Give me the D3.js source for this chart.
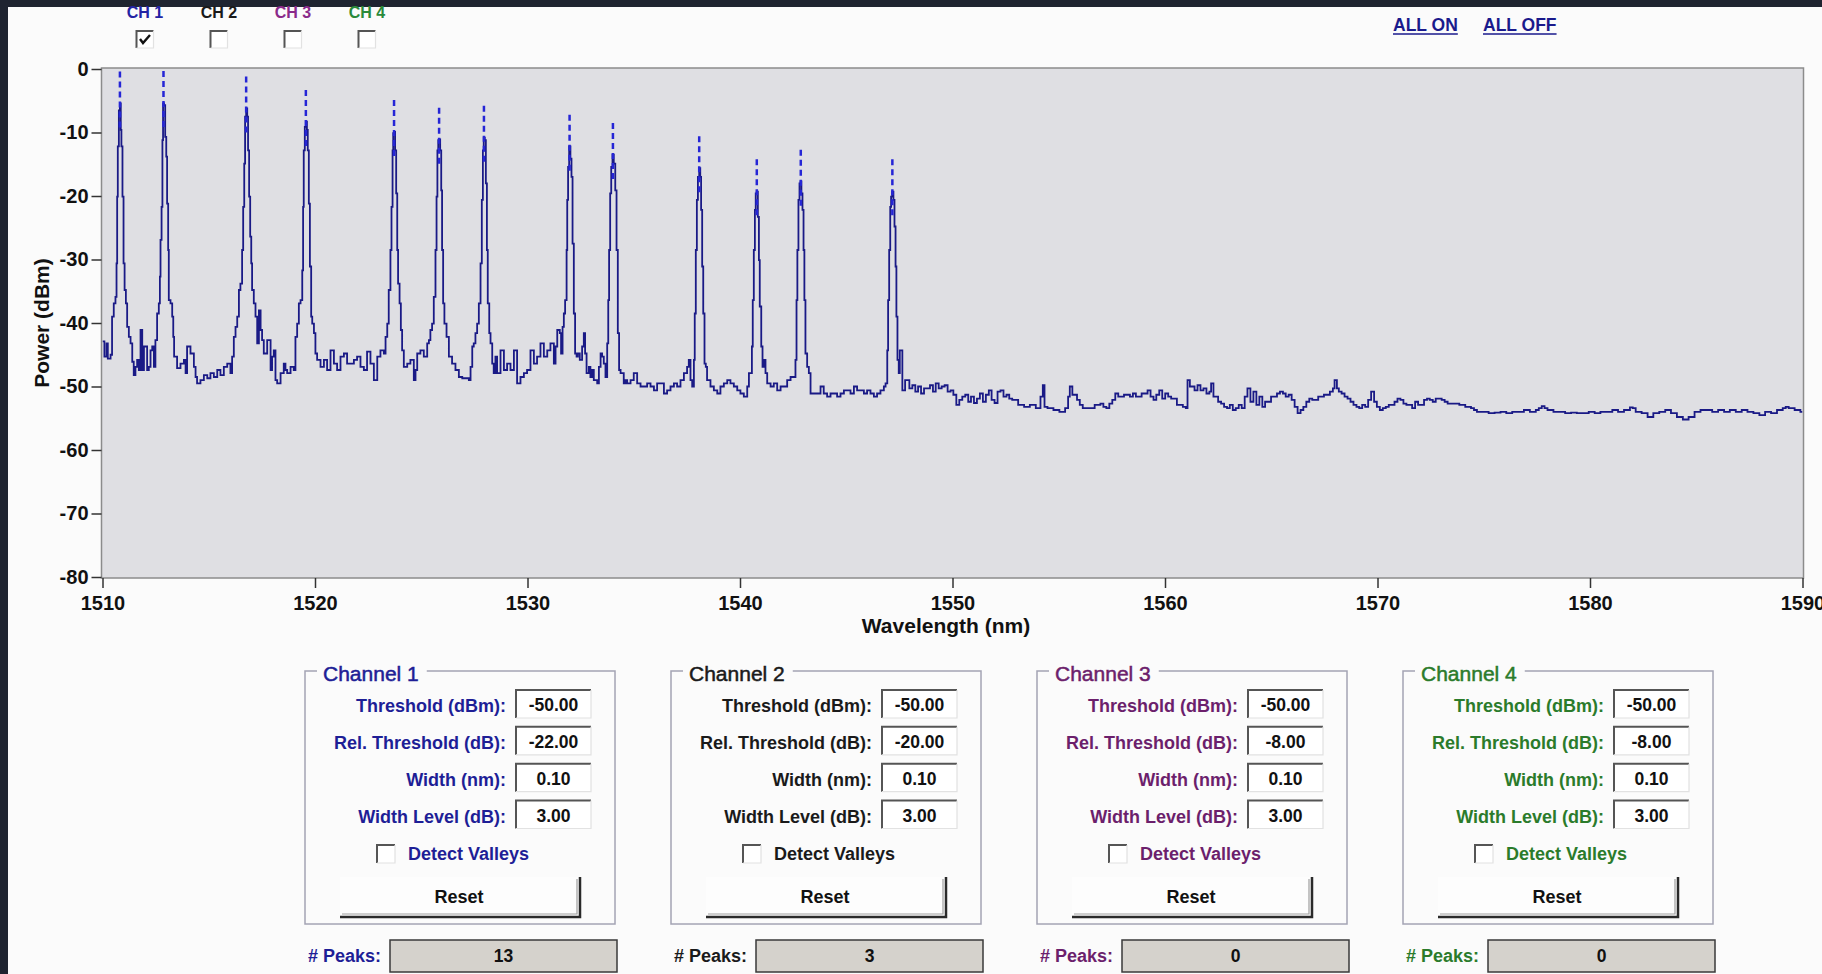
<!DOCTYPE html>
<html lang="en">
<head>
<meta charset="UTF-8">
<title>Peak Search</title>
<script src="https://cdn.jsdelivr.net/npm/d3@7"></script>
<style>
  body { margin: 0; background: #fbfbfb; overflow: hidden; }
  svg { display: block; font-family: 'Liberation Sans', Arial, sans-serif; }
</style>
</head>
<body>
<svg id="chart"></svg>
<script>

// header check boxes
const channelNames = ['CH 1', 'CH 2', 'CH 3', 'CH 4'];
const channelOn = [true, false, false, false];
const headerColors = ['#2323a3', '#1a1a1a', '#8a2a8a', '#2a8a3a'];

// lower panels
const panelTitles = ['Channel 1', 'Channel 2', 'Channel 3', 'Channel 4'];
const panelColors = ['#1e1e96', '#1a1a1a', '#6c1f6c', '#2b7b2b'];
const fieldLabels = ['Threshold (dBm):', 'Rel. Threshold (dB):', 'Width (nm):', 'Width Level (dB):'];
const thresholds = ['-50.00', '-50.00', '-50.00', '-50.00'];
const relThresholds = ['-22.00', '-20.00', '-8.00', '-8.00'];
const widths = ['0.10', '0.10', '0.10', '0.10'];
const widthLevels = ['3.00', '3.00', '3.00', '3.00'];
const peakCounts = ['13', '3', '0', '0'];

// axes
const xTicks = [1510, 1520, 1530, 1540, 1550, 1560, 1570, 1580, 1590];
const yTicks = [0, -10, -20, -30, -40, -50, -60, -70, -80];

// detected peaks of channel 1 [nm, dBm]
const peaks = [
  [1510.82, -5.4], [1512.87, -5.3], [1516.76, -6.2], [1519.57, -8.3],
  [1523.72, -9.9], [1525.84, -11.1], [1527.95, -10.8], [1531.98, -12.2],
  [1534.02, -13.5], [1538.08, -15.6], [1540.79, -19.2], [1542.86, -17.7],
  [1547.17, -19.2]
];

// channel 1 trace [nm, dBm]
const trace = [
  [1510.00,-42.9],[1510.09,-45.3],[1510.19,-43.2],[1510.25,-45.6],[1510.38,-45.0],[1510.45,-39.0],[1510.53,-36.9],[1510.61,-35.9],
  [1510.66,-30.6],[1510.69,-20.1],[1510.72,-12.2],[1510.77,-6.5],[1510.82,-5.4],[1510.86,-9.6],[1510.89,-12.2],[1510.94,-20.1],
  [1510.99,-30.6],[1511.04,-34.8],[1511.10,-36.9],[1511.16,-40.6],[1511.24,-42.2],[1511.32,-43.2],[1511.40,-46.1],[1511.47,-48.2],
  [1511.55,-46.9],[1511.63,-45.8],[1511.71,-47.4],[1511.79,-41.1],[1511.87,-47.4],[1511.95,-43.7],[1512.10,-47.4],[1512.18,-46.9],
  [1512.26,-44.3],[1512.34,-43.7],[1512.42,-46.9],[1512.49,-42.7],[1512.57,-38.5],[1512.65,-36.9],[1512.70,-32.7],[1512.73,-26.9],
  [1512.78,-21.7],[1512.82,-11.2],[1512.85,-5.4],[1512.90,-5.7],[1512.95,-10.7],[1513.00,-13.8],[1513.04,-21.2],[1513.09,-28.5],
  [1513.12,-36.4],[1513.20,-36.9],[1513.28,-39.0],[1513.33,-42.2],[1513.37,-45.3],[1513.45,-45.3],[1513.51,-47.1],[1513.67,-46.4],
  [1513.83,-45.8],[1513.91,-47.9],[1513.98,-43.7],[1514.14,-44.8],[1514.30,-46.9],[1514.38,-48.5],[1514.45,-49.5],[1514.61,-49.0],
  [1514.77,-48.2],[1514.93,-48.7],[1515.08,-47.9],[1515.24,-48.5],[1515.40,-47.4],[1515.55,-48.2],[1515.71,-46.9],[1515.87,-46.4],
  [1516.02,-47.9],[1516.10,-45.3],[1516.18,-42.2],[1516.26,-40.6],[1516.34,-39.0],[1516.42,-34.8],[1516.49,-33.8],[1516.57,-28.5],
  [1516.62,-21.7],[1516.67,-14.9],[1516.71,-7.5],[1516.76,-6.2],[1516.81,-7.5],[1516.85,-12.8],[1516.90,-20.1],[1516.95,-26.4],
  [1517.00,-30.6],[1517.04,-34.8],[1517.12,-36.9],[1517.20,-39.0],[1517.28,-43.2],[1517.36,-38.0],[1517.44,-41.1],[1517.51,-42.7],
  [1517.59,-44.8],[1517.75,-42.7],[1517.91,-47.4],[1517.98,-45.3],[1518.06,-44.3],[1518.14,-49.0],[1518.22,-49.5],[1518.38,-47.9],
  [1518.53,-46.4],[1518.61,-47.4],[1518.69,-47.9],[1518.85,-46.9],[1519.00,-47.4],[1519.08,-42.2],[1519.16,-40.1],[1519.24,-36.9],
  [1519.32,-36.4],[1519.40,-31.7],[1519.44,-21.7],[1519.47,-12.8],[1519.52,-9.1],[1519.57,-8.3],[1519.62,-9.6],[1519.66,-12.8],
  [1519.71,-21.2],[1519.76,-31.1],[1519.82,-39.0],[1519.87,-40.1],[1519.95,-41.6],[1520.02,-44.8],[1520.10,-45.8],[1520.26,-46.9],
  [1520.42,-45.8],[1520.57,-47.4],[1520.73,-44.3],[1520.89,-46.4],[1521.04,-47.4],[1521.20,-45.3],[1521.36,-44.8],[1521.51,-46.4],
  [1521.83,-45.8],[1521.98,-45.3],[1522.14,-46.9],[1522.30,-47.4],[1522.45,-44.5],[1522.61,-46.4],[1522.77,-49.0],[1522.93,-45.3],
  [1523.08,-44.3],[1523.24,-44.8],[1523.32,-42.2],[1523.40,-40.1],[1523.47,-34.8],[1523.55,-28.5],[1523.60,-21.7],[1523.65,-12.8],
  [1523.68,-10.1],[1523.73,-9.9],[1523.77,-12.8],[1523.82,-19.6],[1523.87,-28.5],[1523.91,-33.8],[1523.98,-36.9],[1524.04,-41.1],
  [1524.10,-44.3],[1524.18,-46.9],[1524.34,-46.4],[1524.49,-45.8],[1524.65,-49.0],[1524.73,-47.4],[1524.81,-44.8],[1524.96,-44.3],
  [1525.12,-45.3],[1525.28,-43.2],[1525.36,-42.7],[1525.43,-41.1],[1525.51,-40.1],[1525.59,-35.9],[1525.67,-28.5],[1525.72,-20.1],
  [1525.76,-12.8],[1525.80,-11.2],[1525.84,-11.1],[1525.89,-12.8],[1525.94,-19.1],[1525.98,-28.5],[1526.03,-36.9],[1526.09,-40.1],
  [1526.19,-42.2],[1526.30,-45.3],[1526.45,-46.4],[1526.61,-47.4],[1526.77,-48.5],[1526.93,-48.7],[1527.08,-48.7],[1527.24,-49.0],
  [1527.32,-46.9],[1527.40,-43.7],[1527.47,-43.2],[1527.55,-41.6],[1527.63,-40.1],[1527.71,-36.9],[1527.79,-30.6],[1527.85,-20.6],
  [1527.90,-12.8],[1527.94,-10.8],[1527.99,-11.2],[1528.04,-18.0],[1528.09,-28.5],[1528.13,-36.9],[1528.20,-41.6],[1528.26,-43.2],
  [1528.34,-46.4],[1528.41,-47.9],[1528.49,-45.3],[1528.57,-47.9],[1528.73,-44.3],[1528.89,-47.4],[1529.04,-46.4],[1529.20,-47.4],
  [1529.36,-44.3],[1529.51,-49.5],[1529.67,-48.5],[1529.83,-47.9],[1529.98,-47.4],[1530.14,-44.3],[1530.30,-46.4],[1530.45,-45.3],
  [1530.61,-43.2],[1530.77,-45.3],[1530.93,-44.3],
  [1531.08,-43.2],[1531.24,-46.4],[1531.32,-43.7],[1531.40,-41.1],[1531.52,-41.6],[1531.58,-44.8],[1531.65,-40.6],[1531.71,-38.5],
  [1531.77,-36.4],[1531.84,-28.5],[1531.87,-20.6],[1531.91,-15.4],[1531.96,-12.2],[1532.02,-14.1],[1532.07,-17.0],[1532.12,-27.5],
  [1532.18,-38.5],[1532.24,-44.8],[1532.31,-45.3],[1532.37,-44.8],[1532.46,-45.8],[1532.57,-43.7],[1532.65,-41.6],[1532.71,-44.8],
  [1532.78,-47.9],[1532.89,-46.9],[1532.96,-48.5],[1533.04,-47.4],[1533.12,-49.0],[1533.28,-49.5],[1533.36,-46.9],[1533.44,-44.8],
  [1533.51,-45.3],[1533.59,-46.4],[1533.67,-48.5],[1533.75,-43.2],[1533.80,-36.4],[1533.84,-28.5],[1533.89,-19.6],[1533.94,-15.4],
  [1534.00,-13.5],[1534.06,-14.9],[1534.13,-19.1],[1534.19,-28.5],[1534.25,-41.6],[1534.31,-47.4],[1534.38,-47.9],[1534.53,-49.5],
  [1534.61,-49.0],[1534.69,-49.5],[1534.85,-49.0],[1535.00,-47.9],[1535.16,-49.5],[1535.32,-50.0],[1535.47,-50.0],[1535.63,-49.5],
  [1535.79,-50.0],[1535.95,-50.6],[1536.10,-49.5],[1536.26,-49.5],[1536.42,-51.1],[1536.57,-50.6],[1536.73,-50.0],[1536.89,-49.5],
  [1537.04,-50.0],[1537.20,-49.0],[1537.36,-47.9],[1537.51,-46.9],[1537.59,-45.8],[1537.67,-49.0],[1537.75,-50.0],[1537.83,-45.8],
  [1537.87,-38.5],[1537.92,-28.5],[1537.97,-20.6],[1538.02,-17.0],[1538.08,-15.6],[1538.13,-17.0],[1538.17,-22.2],[1538.22,-31.1],
  [1538.27,-38.5],[1538.33,-46.4],[1538.39,-46.9],[1538.45,-49.0],[1538.61,-50.0],[1538.77,-50.6],[1538.93,-51.1],[1539.08,-50.0],
  [1539.24,-49.5],[1539.40,-49.0],[1539.55,-49.5],[1539.71,-50.0],[1539.87,-50.6],[1540.02,-51.1],[1540.18,-51.6],[1540.34,-50.0],
  [1540.42,-47.9],[1540.49,-47.9],[1540.56,-43.7],[1540.60,-36.4],[1540.65,-28.5],[1540.70,-22.2],[1540.74,-19.6],[1540.79,-19.3],
  [1540.84,-23.3],[1540.89,-30.1],[1540.93,-37.4],[1541.00,-43.7],[1541.06,-46.9],[1541.12,-45.8],[1541.20,-47.9],[1541.28,-49.5],
  [1541.44,-50.0],[1541.59,-49.5],[1541.75,-50.6],[1541.91,-50.0],[1542.06,-50.0],[1542.22,-49.0],[1542.38,-48.5],[1542.53,-48.5],
  [1542.61,-45.8],[1542.66,-36.4],[1542.70,-28.5],[1542.75,-20.6],[1542.80,-18.0],[1542.85,-17.7],[1542.89,-19.6],[1542.94,-22.2],
  [1542.99,-28.5],[1543.03,-36.4],[1543.08,-44.8],[1543.16,-46.9],[1543.24,-47.9],[1543.32,-51.1],[1543.47,-51.1],[1543.63,-51.1],
  [1543.79,-50.0],[1543.94,-51.1],[1544.10,-51.6],[1544.26,-51.1],[1544.42,-51.1],[1544.57,-51.6],[1544.73,-51.1],[1544.89,-50.6],
  [1545.04,-50.6],[1545.20,-51.1],[1545.36,-50.0],[1545.51,-50.6],[1545.67,-50.6],[1545.83,-51.1],[1545.98,-50.6],[1546.14,-51.1],
  [1546.30,-51.6],[1546.45,-51.1],[1546.61,-50.6],[1546.77,-50.0],[1546.85,-49.5],[1546.93,-44.3],[1546.97,-36.4],[1547.02,-28.5],
  [1547.07,-21.7],[1547.11,-20.1],[1547.16,-19.3],[1547.22,-20.6],[1547.27,-24.8],[1547.32,-31.1],[1547.36,-39.0],[1547.41,-45.8],
  [1547.47,-47.9],[1547.52,-44.3],
  [1547.64,-50.6],[1547.77,-49.0],[1547.97,-50.3],[1548.11,-49.8],[1548.25,-50.8],[1548.38,-50.0],[1548.52,-51.1],[1548.66,-50.3],
  [1548.94,-49.8],[1549.08,-50.8],[1549.21,-49.5],[1549.35,-50.3],[1549.49,-50.0],[1549.63,-49.8],[1549.77,-50.8],[1549.91,-50.6],
  [1550.04,-51.3],[1550.18,-52.9],[1550.32,-52.1],[1550.46,-51.6],[1550.60,-51.3],[1550.74,-52.4],[1550.87,-51.6],[1551.01,-52.6],
  [1551.15,-51.9],[1551.29,-51.1],[1551.43,-52.4],[1551.57,-51.3],[1551.71,-50.6],[1551.84,-52.1],[1551.98,-52.6],[1552.12,-50.8],
  [1552.26,-50.6],[1552.40,-51.6],[1552.54,-51.3],[1552.67,-51.9],[1552.81,-52.1],[1553.09,-52.9],[1553.37,-53.2],[1553.64,-52.9],
  [1553.92,-53.4],[1554.14,-51.6],[1554.25,-49.8],[1554.33,-53.2],[1554.47,-53.4],[1554.75,-53.7],[1555.03,-54.0],[1555.30,-53.4],
  [1555.44,-51.6],[1555.52,-50.0],[1555.64,-51.3],[1555.86,-52.1],[1555.99,-52.9],[1556.13,-53.4],[1556.41,-53.4],[1556.69,-52.9],
  [1556.96,-52.7],[1557.10,-53.2],[1557.24,-53.4],[1557.38,-52.7],[1557.52,-52.1],[1557.66,-51.1],[1557.80,-51.6],[1558.07,-51.3],
  [1558.35,-51.6],[1558.49,-51.1],[1558.63,-51.6],[1558.90,-51.1],[1559.18,-50.6],[1559.32,-51.6],[1559.46,-52.1],[1559.59,-51.3],
  [1559.73,-50.6],[1559.87,-51.9],[1560.01,-51.1],[1560.15,-51.6],[1560.29,-51.9],[1560.56,-52.9],[1560.84,-53.2],[1560.98,-53.4],
  [1561.06,-49.0],[1561.17,-50.0],[1561.39,-50.6],[1561.53,-49.8],[1561.67,-50.6],[1561.81,-50.3],[1561.95,-51.1],[1562.09,-50.8],
  [1562.17,-49.5],[1562.28,-51.6],[1562.50,-52.4],[1562.64,-52.7],[1562.78,-53.2],[1562.92,-53.4],[1563.05,-52.9],[1563.19,-53.7],
  [1563.33,-53.4],[1563.47,-52.9],[1563.61,-53.4],[1563.75,-51.6],[1563.88,-50.3],[1564.02,-52.4],[1564.16,-50.8],[1564.30,-52.9],
  [1564.44,-51.6],[1564.58,-53.2],[1564.71,-52.4],[1564.99,-51.6],[1565.27,-51.1],[1565.41,-50.8],[1565.55,-51.1],[1565.68,-51.6],
  [1565.82,-51.3],[1565.96,-52.1],[1566.10,-53.2],[1566.24,-54.2],[1566.38,-53.7],[1566.51,-53.2],[1566.65,-52.4],[1566.79,-51.9],
  [1566.93,-52.1],[1567.21,-51.6],[1567.48,-51.3],[1567.76,-50.8],[1567.90,-50.3],[1567.98,-49.0],[1568.09,-50.3],[1568.18,-50.8],
  [1568.31,-51.1],[1568.45,-51.6],[1568.59,-51.9],[1568.73,-52.4],[1568.87,-52.9],[1569.01,-53.2],[1569.14,-53.4],[1569.28,-52.9],
  [1569.42,-53.2],[1569.56,-52.1],[1569.70,-50.8],[1569.84,-52.4],[1569.97,-53.2],[1570.11,-53.7],[1570.25,-53.4],[1570.39,-53.2],
  [1570.53,-52.9],[1570.80,-52.4],[1570.94,-51.9],[1571.08,-52.1],[1571.22,-52.7],[1571.36,-52.9],[1571.63,-53.4],[1571.77,-52.4],
  [1571.91,-52.9],[1572.19,-52.1],[1572.33,-51.9],[1572.46,-52.1],[1572.60,-52.4],[1572.74,-51.9],[1573.02,-52.1],[1573.16,-52.4],
  [1573.30,-52.7],[1573.57,-52.7],[1573.85,-52.9],[1574.13,-53.2],[1574.40,-53.4],[1574.54,-53.7],[1574.68,-54.0],[1574.96,-54.0],
  [1575.23,-54.2],[1575.51,-54.1],[1575.79,-54.0],[1576.06,-54.2],[1576.34,-54.0],[1576.62,-54.0],[1576.89,-53.7],[1577.17,-54.0],
  [1577.45,-53.7],[1577.59,-53.4],[1577.73,-53.1],[1577.86,-53.4],[1578.00,-53.7],[1578.28,-54.0],[1578.55,-54.0],[1578.83,-54.2],
  [1579.11,-54.1],[1579.38,-54.2],[1579.66,-54.2],[1579.94,-54.0],[1580.22,-54.2],[1580.49,-54.0],[1580.77,-54.0],[1581.05,-53.7],
  [1581.32,-54.0],[1581.60,-53.7],[1581.88,-53.3],[1582.01,-53.4],[1582.15,-54.0],[1582.43,-54.2],[1582.71,-54.8],[1582.98,-54.2],
  [1583.26,-54.0],[1583.54,-53.7],[1583.81,-54.2],[1584.09,-54.8],[1584.37,-55.2],[1584.64,-54.8],[1584.92,-54.0],[1585.20,-53.7],
  [1585.47,-53.7],[1585.75,-54.0],[1586.03,-53.7],[1586.31,-54.0],[1586.58,-53.7],[1586.86,-54.0],[1587.14,-53.7],[1587.41,-54.0],
  [1587.69,-54.2],[1587.97,-54.5],[1588.24,-54.0],[1588.52,-54.2],[1588.80,-53.7],[1589.07,-53.4],[1589.21,-53.2],[1589.35,-53.4],
  [1589.63,-53.7],[1589.90,-54.0],[1590.00,-54.0]
];

const W = 1822, H = 974;
const bg = '#fbfbfb';

const svg = d3.select('#chart').attr('width', W).attr('height', H);
svg.append('rect').attr('width', W).attr('height', H).attr('fill', bg);

const x = d3.scaleLinear().domain([1510, 1590]).range([102.5, 1802.5]);
const y = d3.scaleLinear().domain([-80, 0]).range([577, 69]);

// plot background
svg.append('rect')
    .attr('x', x(1510) - 1).attr('y', y(0) - 1)
    .attr('width', x(1590) - x(1510) + 2).attr('height', y(-80) - y(0) + 2)
    .attr('fill', '#dfdfe3').attr('stroke', '#8c8c8c').attr('stroke-width', 1.5);

// axes
const yAxis = svg.append('g')
    .attr('transform', `translate(${x(1510) - 1},0)`)
    .call(d3.axisLeft(y).tickValues(yTicks).tickSize(10).tickPadding(3).tickFormat(d => String(d)));
const xAxis = svg.append('g')
    .attr('transform', `translate(0,${y(-80) + 1})`)
    .call(d3.axisBottom(x).tickValues(xTicks).tickSize(10).tickPadding(8).tickFormat(d => String(d)));

[yAxis, xAxis].forEach(a => {
    a.select('.domain').remove();
    a.selectAll('line').attr('stroke', '#333').attr('stroke-width', 1.5);
    a.selectAll('text')
        .attr('fill', '#111')
        .style('font-size', '20px')
        .style('font-weight', 'bold')
        .style('font-family', "'Liberation Sans', Arial, sans-serif");
});

svg.append('text')
    .attr('x', 946).attr('y', 633)
    .attr('text-anchor', 'middle')
    .attr('fill', '#111')
    .style('font-size', '21px').style('font-weight', 'bold')
    .text('Wavelength (nm)');

svg.append('text')
    .attr('transform', `translate(49,${(y(0) + y(-80)) / 2}) rotate(-90)`)
    .attr('text-anchor', 'middle')
    .attr('fill', '#111')
    .style('font-size', '21px').style('font-weight', 'bold')
    .text('Power (dBm)');

// trace
svg.append('clipPath').attr('id', 'plotclip')
    .append('rect')
    .attr('x', x(1510)).attr('y', y(0) - 2)
    .attr('width', x(1590) - x(1510)).attr('height', y(-80) - y(0) + 2);

const line = d3.line()
    .x(d => x(d[0]))
    .y(d => y(d[1]))
    .curve(d3.curveStepAfter);

svg.append('path')
    .datum(trace)
    .attr('clip-path', 'url(#plotclip)')
    .attr('fill', 'none')
    .attr('stroke', '#1a1a86')
    .attr('stroke-width', 1.8)
    .attr('d', line);

// peak markers
svg.append('g').selectAll('line')
    .data(peaks)
    .join('line')
    .attr('x1', d => x(d[0])).attr('x2', d => x(d[0]))
    .attr('y1', d => y(d[1] + 5)).attr('y2', d => y(d[1] - 4))
    .attr('stroke', '#2626d6')
    .attr('stroke-width', 2.5)
    .attr('stroke-dasharray', '6,4');

// dark window frame
svg.append('rect').attr('x', 0).attr('y', 0).attr('width', W).attr('height', 7).attr('fill', '#1f2430');
svg.append('rect').attr('x', 0).attr('y', 0).attr('width', 8).attr('height', H).attr('fill', '#1f2430');

// helpers for the classic controls
function sunkenBox(g, bx, by, bw, bh, fill) {
    g.append('rect').attr('x', bx).attr('y', by).attr('width', bw).attr('height', bh).attr('fill', fill);
    g.append('path').attr('d', `M${bx},${by + bh}V${by}H${bx + bw}`)
        .attr('fill', 'none').attr('stroke', '#555').attr('stroke-width', 2);
    g.append('path').attr('d', `M${bx + bw},${by}V${by + bh}H${bx}`)
        .attr('fill', 'none').attr('stroke', '#e2e2e2').attr('stroke-width', 1.2);
}

// header: channel check boxes
const headerX = d3.scaleLinear().domain([0, 3]).range([145, 367]);
const header = svg.append('g');
channelNames.forEach((name, i) => {
    const cx = headerX(i);
    header.append('text')
        .attr('x', cx).attr('y', 18)
        .attr('text-anchor', 'middle')
        .attr('fill', headerColors[i])
        .style('font-size', '16px').style('font-weight', 'bold')
        .text(name);
    sunkenBox(header, cx - 8.5, 31, 17, 17, '#fff');
    if (channelOn[i]) {
        header.append('path')
            .attr('d', `M${cx - 5},${39} L${cx - 2},${43} L${cx + 5},${35}`)
            .attr('fill', 'none').attr('stroke', '#111').attr('stroke-width', 2.4);
    }
});

// ALL ON / ALL OFF links
[['ALL ON', 1393], ['ALL OFF', 1483]].forEach(([label, lx]) => {
    const t = svg.append('text')
        .attr('x', lx).attr('y', 31)
        .attr('fill', '#1a1a8c')
        .style('font-size', '17.5px').style('font-weight', 'bold')
        .text(label);
    const len = t.node().getComputedTextLength();
    svg.append('line')
        .attr('x1', lx).attr('x2', lx + len)
        .attr('y1', 34).attr('y2', 34)
        .attr('stroke', '#1a1a8c').attr('stroke-width', 1.6);
});

// channel panels
const panelX = d3.scaleLinear().domain([0, 3]).range([305, 1403]);
const rowY = d3.scaleLinear().domain([0, 3]).range([690, 800.5]);

panelTitles.forEach((title, i) => {
    const px = panelX(i);
    const col = panelColors[i];
    const g = svg.append('g');

    g.append('rect')
        .attr('x', px).attr('y', 671).attr('width', 310).attr('height', 253)
        .attr('fill', 'none').attr('stroke', '#a4a4b4').attr('stroke-width', 1.5);
    const tt = g.append('text')
        .attr('x', px + 18).attr('y', 681)
        .attr('fill', col)
        .attr('stroke', col).attr('stroke-width', 0.5)
        .style('font-size', '21px')
        .text(title);
    const tl = tt.node().getComputedTextLength();
    g.insert('rect', 'text')
        .attr('x', px + 12).attr('y', 664).attr('width', tl + 14).attr('height', 14)
        .attr('fill', bg);

    const values = [thresholds[i], relThresholds[i], widths[i], widthLevels[i]];
    fieldLabels.forEach((lab, k) => {
        const ry = rowY(k);
        g.append('text')
            .attr('x', px + 201).attr('y', ry + 22)
            .attr('text-anchor', 'end')
            .attr('fill', col)
            .style('font-size', '18px').style('font-weight', 'bold')
            .text(lab);
        sunkenBox(g, px + 211, ry, 75, 28, '#fff');
        g.append('text')
            .attr('x', px + 248.5).attr('y', ry + 21)
            .attr('text-anchor', 'middle')
            .attr('fill', '#111')
            .style('font-size', '17.5px').style('font-weight', 'bold')
            .text(values[k]);
    });

    // detect valleys
    sunkenBox(g, px + 72, 845, 18, 18, '#fff');
    g.append('text')
        .attr('x', px + 103).attr('y', 860)
        .attr('fill', col)
        .style('font-size', '18px').style('font-weight', 'bold')
        .text('Detect Valleys');

    // reset button
    g.append('rect').attr('x', px + 35).attr('y', 877).attr('width', 240).attr('height', 40).attr('fill', '#fdfdfd');
    g.append('path').attr('d', `M${px + 272},${879}V${914}H${px + 37}`)
        .attr('fill', 'none').attr('stroke', '#a0a0a0').attr('stroke-width', 1.2);
    g.append('path').attr('d', `M${px + 275},${877}V${917}H${px + 35}`)
        .attr('fill', 'none').attr('stroke', '#2a2a2a').attr('stroke-width', 2.5);
    g.append('text')
        .attr('x', px + 154).attr('y', 903)
        .attr('text-anchor', 'middle')
        .attr('fill', '#111')
        .style('font-size', '18px').style('font-weight', 'bold')
        .text('Reset');

    // peak count
    g.append('text')
        .attr('x', px + 3).attr('y', 962)
        .attr('fill', col)
        .style('font-size', '18px').style('font-weight', 'bold')
        .text('# Peaks:');
    g.append('rect')
        .attr('x', px + 85).attr('y', 940).attr('width', 227).attr('height', 32)
        .attr('fill', '#d5d2cc').attr('stroke', '#3a3a3a').attr('stroke-width', 1.5);
    g.append('text')
        .attr('x', px + 198.5).attr('y', 962)
        .attr('text-anchor', 'middle')
        .attr('fill', '#111')
        .style('font-size', '17.5px').style('font-weight', 'bold')
        .text(peakCounts[i]);
});

</script>
</body>
</html>
